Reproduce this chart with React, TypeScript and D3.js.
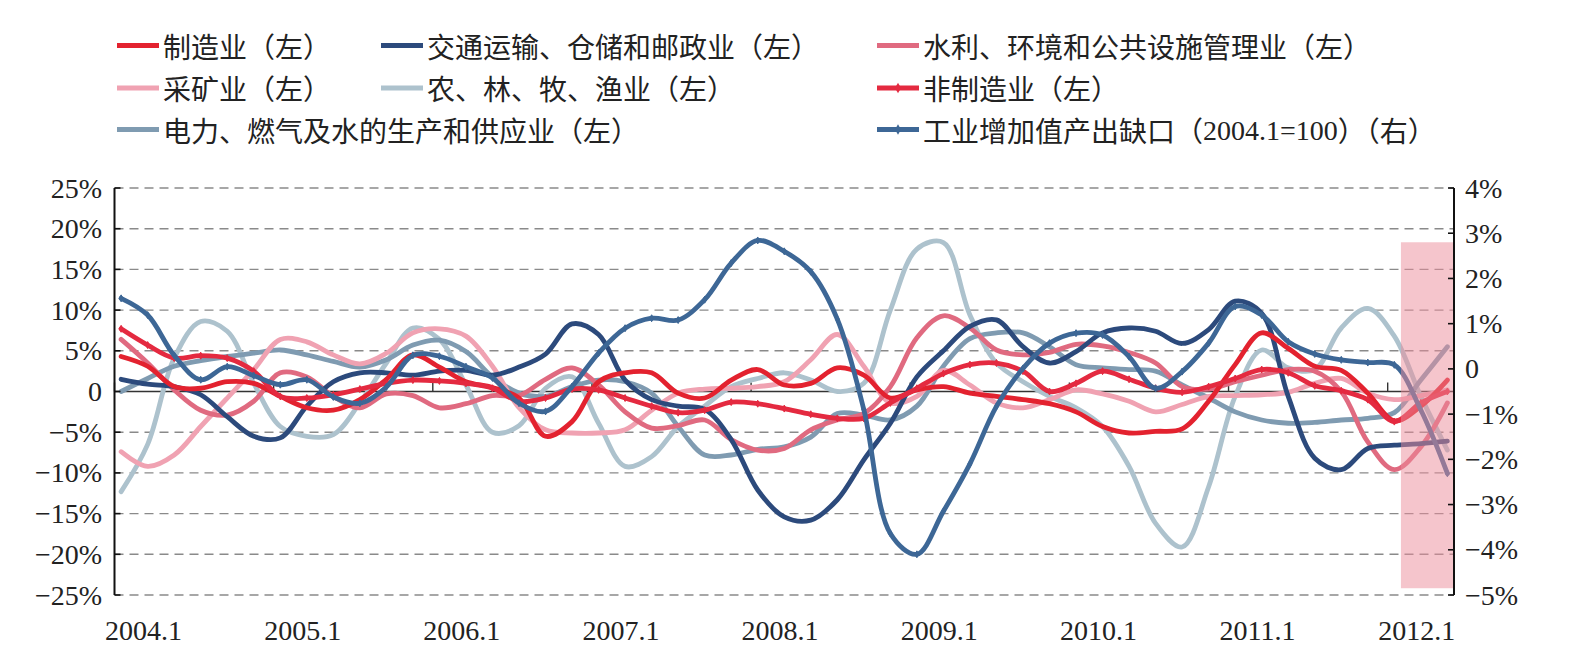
import React from "react";
import * as d3 from "d3";

const W = 1586;
const H = 669;

// monthly categories 2004.1 .. 2012.5
const months: string[] = [];
for (let y = 2004; y <= 2012; y++) {
  for (let m = 1; m <= 12; m++) {
    if (y === 2012 && m > 5) break;
    months.push(`${y}.${m}`);
  }
}
// values below are read every other month
const sampleMonths = months.filter((_, i) => i % 2 === 0);

const yearLabels = ["2004.1", "2005.1", "2006.1", "2007.1", "2008.1", "2009.1", "2010.1", "2011.1", "2012.1"];
const leftTicks = [25, 20, 15, 10, 5, 0, -5, -10, -15, -20, -25];
const rightTicks = [4, 3, 2, 1, 0, -1, -2, -3, -4, -5];

// % , left axis
const manufacturing = [4.3, 3.1, 0.6, 0.4, 1.2, 1.0, -0.6, -2.0, -2.3, -1.0, 1.5, 4.5, 3.0, 1.2, 0.5, -0.8, -5.5, -3.7, 1.2, 2.3, 2.3, -0.2, -0.8, 1.4, 2.7, 0.8, 1.0, 2.9, 2.0, -0.8, 0.2, 0.6, -0.2, -0.6, -1.0, -1.5, -2.5, -4.3, -5.1, -4.9, -4.6, -1.2, 3.3, 7.2, 5.3, 3.1, 2.6, -0.2, -3.6, -1.8, 1.4];
const transport = [1.5, 0.9, 0.6, -0.4, -3.1, -5.5, -5.7, -1.8, 1.2, 2.3, 2.3, 2.0, 2.5, 2.6, 2.0, 3.0, 4.6, 8.3, 7.0, 1.4, -1.0, -1.8, -2.2, -5.9, -12.1, -15.4, -15.8, -13.3, -8.4, -3.9, 1.8, 5.0, 8.0, 8.8, 5.5, 3.5, 4.9, 7.2, 7.8, 7.4, 5.9, 7.6, 11.1, 9.6, -0.6, -8.2, -9.6, -7.0, -6.6, -6.4, -6.1];
const waterConservancy = [6.4, 3.5, 0.2, -2.3, -2.9, -1.2, 2.3, 1.8, -0.6, -2.0, -0.3, -0.5, -2.0, -1.5, -0.5, -0.5, 1.5, 2.9, 0.8, -2.5, -4.5, -4.2, -3.5, -5.9, -7.2, -7.0, -4.7, -3.5, -2.7, 0.6, 6.6, 9.3, 7.8, 5.1, 4.5, 4.8, 5.8, 5.6, 4.8, 3.5, 0.6, 0.3, 1.2, 2.0, 2.7, 2.5, 0.0, -6.2, -9.6, -6.8, -1.4];
const mining = [-7.4, -9.2, -7.8, -4.3, -0.8, 2.7, 6.4, 6.1, 4.5, 3.4, 4.7, 7.2, 7.7, 6.8, 3.1, -2.0, -4.7, -5.1, -5.1, -4.7, -2.3, -0.2, 0.3, 0.4, 0.6, 1.2, 3.9, 7.0, 3.1, -1.4, -0.6, 2.6, 0.8, -1.4, -2.0, -1.0, 0.2, -0.3, -1.2, -2.5, -1.6, -0.6, -0.5, -0.4, -0.1, 1.0, 1.6, -0.2, -1.0, -0.5, 0.2];
const agriculture = [-12.3, -6.5, 4.1, 8.6, 7.4, 1.0, -4.3, -5.5, -5.3, -1.4, 3.5, 7.8, 6.4, 0.8, -5.0, -4.2, 0.4, 1.8, -3.9, -9.2, -8.0, -4.3, -1.8, 0.6, 1.6, 2.3, 1.4, 0.0, 1.0, 10.0, 17.5, 18.3, 9.4, 3.5, 1.2, -0.6, -2.0, -4.3, -9.2, -16.2, -19.1, -11.7, -0.6, 5.1, 2.9, 2.7, 7.8, 10.2, 6.8, -0.6, -7.2];
const nonManufacturing = [7.7, 5.7, 4.1, 4.4, 4.1, 2.5, -0.6, -0.8, -0.4, 0.3, 1.0, 1.4, 1.3, 1.0, 0.4, -1.2, -0.8, 0.3, 0.2, -0.8, -1.8, -2.6, -2.3, -1.3, -1.5, -2.1, -2.8, -3.3, -3.3, -1.4, 0.4, 2.2, 3.3, 3.5, 2.5, 0.0, 1.0, 2.5, 1.5, 0.4, -0.1, 0.6, 1.6, 2.7, 2.3, 0.7, 0.1, -1.0, -3.7, -1.4, 0.0];
const utilities = [0.0, 1.6, 3.1, 3.8, 4.3, 4.7, 5.1, 4.5, 3.7, 3.0, 3.9, 5.7, 6.3, 4.9, 1.8, -0.2, -0.6, 0.6, 1.4, 1.2, -0.2, -4.3, -7.8, -7.8, -7.1, -6.8, -5.6, -2.7, -2.9, -3.5, -1.8, 3.1, 6.5, 7.2, 7.2, 5.5, 3.3, 2.9, 2.7, 2.5, 0.8, -0.8, -2.5, -3.5, -3.9, -3.8, -3.5, -3.3, -2.6, 1.4, 5.5];
// % , right axis
const outputGap = [1.56, 1.19, 0.3, -0.24, 0.05, -0.15, -0.35, -0.24, -0.62, -0.76, -0.4, 0.3, 0.28, 0.05, -0.2, -0.76, -0.94, -0.39, 0.35, 0.9, 1.12, 1.08, 1.53, 2.34, 2.84, 2.6, 2.15, 1.1, -0.9, -3.64, -4.1, -3.15, -2.1, -0.83, 0.01, 0.57, 0.79, 0.75, 0.27, -0.43, -0.06, 0.57, 1.38, 1.19, 0.6, 0.33, 0.2, 0.14, 0.09, -0.91, -2.31];

// shaded window (right-axis units)
const shadeStart = "2012.2";
const shadeTop = 2.8;
const shadeBottom = -4.85;

type Series = {
  name: string;
  values: number[];
  color: string;
  axis: "left" | "right";
  marker?: boolean;
};

const series: Series[] = [
  { name: "农、林、牧、渔业（左）", values: agriculture, color: "#adc2cd", axis: "left" },
  { name: "电力、燃气及水的生产和供应业（左）", values: utilities, color: "#7f9bb1", axis: "left" },
  { name: "采矿业（左）", values: mining, color: "#f0a2b2", axis: "left" },
  { name: "水利、环境和公共设施管理业（左）", values: waterConservancy, color: "#e06a80", axis: "left" },
  { name: "交通运输、仓储和邮政业（左）", values: transport, color: "#2c4a7c", axis: "left" },
  { name: "制造业（左）", values: manufacturing, color: "#e3222f", axis: "left" },
  { name: "非制造业（左）", values: nonManufacturing, color: "#e42a40", axis: "left", marker: true },
  { name: "工业增加值产出缺口（2004.1=100）（右）", values: outputGap, color: "#3d6796", axis: "right", marker: true },
];

const legendLayout = [
  ["制造业（左）", "交通运输、仓储和邮政业（左）", "水利、环境和公共设施管理业（左）"],
  ["采矿业（左）", "农、林、牧、渔业（左）", "非制造业（左）"],
  ["电力、燃气及水的生产和供应业（左）", null, "工业增加值产出缺口（2004.1=100）（右）"],
];

const CJK = "'Noto Sans CJK SC', sans-serif";
const SERIF = "'Liberation Serif', 'Times New Roman', serif";

export default function App() {
  const left = 114.5;
  const right = 1454;
  const top = 188;
  const bottom = 595;

  const x = d3.scaleBand<string>().domain(months).range([left, right]);
  const bw = x.bandwidth();
  const xc = (m: string) => (x(m) as number) + bw / 2;
  const yL = d3.scaleLinear().domain([-25, 25]).range([bottom, top]);
  const yR = d3.scaleLinear().domain([-5, 4]).range([bottom, top]);

  const marker = d3.symbol().type(d3.symbolDiamond).size(14)() as string;

  const fmt = (v: number) => (v === 0 ? "0" : `${v < 0 ? "\u2212" : ""}${Math.abs(v)}%`);

  const byName = new Map(series.map((s) => [s.name, s]));

  // digits inside the label are set in the serif face, like the axis numbers
  const legendLabel = (name: string, tx: number, ly: number) => {
    const parts = name.split(/([0-9.=]+)/).filter((p) => p.length > 0);
    return (
      <text x={tx} y={ly} dominantBaseline="central" fontSize={28} fill="#222" fontFamily={CJK}>
        {parts.map((p, i) =>
          /^[0-9.=]+$/.test(p) ? (
            <tspan key={i} fontFamily={SERIF}>
              {p}
            </tspan>
          ) : (
            <tspan key={i}>{p}</tspan>
          )
        )}
      </text>
    );
  };

  return (
    <svg width={W} height={H} style={{ display: "block", background: "#fff" }}>
      <style>{`body{margin:0}`}</style>

      {/* legend */}
      {legendLayout.map((row, r) =>
        row.map((name, c) => {
          if (!name) return null;
          const s = byName.get(name)!;
          const lx = [117, 381, 877][c];
          const ly = [45.5, 88, 129.5][r];
          return (
            <g key={name}>
              <line x1={lx} x2={lx + 42} y1={ly} y2={ly} stroke={s.color} strokeWidth={5} />
              {s.marker && <path d={marker} transform={`translate(${lx + 21},${ly}) scale(1.5)`} fill={s.color} />}
              {legendLabel(name, lx + 46, ly)}
            </g>
          );
        })
      )}

      {/* grid */}
      {leftTicks
        .filter((v) => v !== 0)
        .map((v) => (
          <line key={v} x1={left} x2={right} y1={yL(v)} y2={yL(v)} stroke="#8a8a8a" strokeWidth={1.4} strokeDasharray="9,6" />
        ))}
      <line x1={left} x2={right} y1={yL(0)} y2={yL(0)} stroke="#333" strokeWidth={1.6} />
      {yearLabels.map((m) => (
        <line key={m} x1={x(m)} x2={x(m)} y1={yL(0)} y2={yL(0) - 9} stroke="#333" strokeWidth={1.4} />
      ))}

      {/* series */}
      {series.map((s) => {
        const sy = s.axis === "left" ? yL : yR;
        const line = d3
          .line<number>()
          .x((_, i) => xc(sampleMonths[i]))
          .y((d) => sy(d))
          .curve(d3.curveCatmullRom.alpha(0.5));
        return (
          <g key={s.name}>
            <path d={line(s.values) as string} fill="none" stroke={s.color} strokeWidth={4.8} strokeLinejoin="round" strokeLinecap="round" />
            {s.marker &&
              s.values.map((v, i) => (
                <path key={i} d={marker} transform={`translate(${xc(sampleMonths[i])},${sy(v)})`} fill={s.color} stroke={s.color} strokeWidth={1} />
              ))}
          </g>
        );
      })}

      {/* shaded window */}
      <rect
        x={x(shadeStart)}
        y={yR(shadeTop)}
        width={right - (x(shadeStart) as number)}
        height={yR(shadeBottom) - yR(shadeTop)}
        fill="#eb8b99"
        opacity={0.5}
      />

      {/* left axis */}
      <line x1={left} x2={left} y1={top} y2={bottom} stroke="#111" strokeWidth={2} />
      {leftTicks.map((v) => (
        <g key={v}>
          <line x1={left} x2={left + 6} y1={yL(v)} y2={yL(v)} stroke="#111" strokeWidth={1.6} />
          <text x={102} y={yL(v)} textAnchor="end" dominantBaseline="central" fontFamily={SERIF} fontSize={28} fill="#222">
            {fmt(v)}
          </text>
        </g>
      ))}

      {/* right axis */}
      <line x1={right} x2={right} y1={top} y2={bottom} stroke="#111" strokeWidth={2} />
      {rightTicks.map((v) => (
        <g key={v}>
          <line x1={right - 6} x2={right} y1={yR(v)} y2={yR(v)} stroke="#111" strokeWidth={1.6} />
          <text x={1465} y={yR(v)} textAnchor="start" dominantBaseline="central" fontFamily={SERIF} fontSize={28} fill="#222">
            {fmt(v)}
          </text>
        </g>
      ))}

      {/* x labels */}
      {yearLabels.map((m) => (
        <text key={m} x={(x(m) as number) + 29} y={630} textAnchor="middle" dominantBaseline="central" fontFamily={SERIF} fontSize={28} fill="#222">
          {m}
        </text>
      ))}
    </svg>
  );
}
